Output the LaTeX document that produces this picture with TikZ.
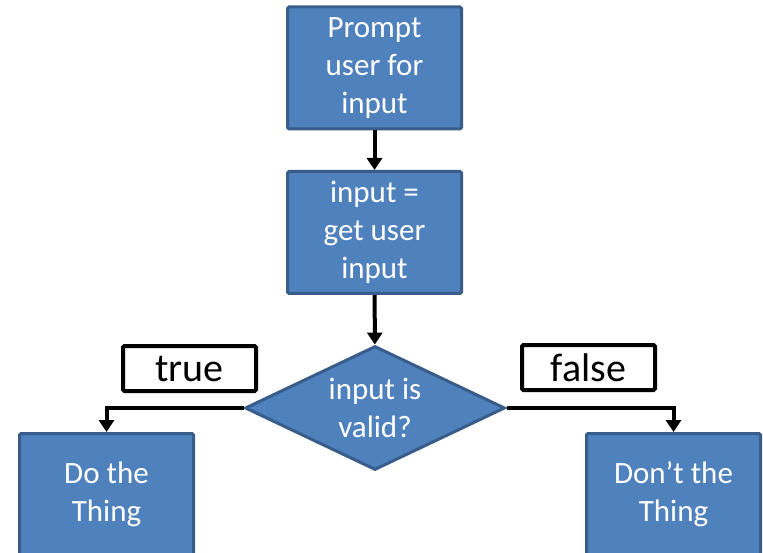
\documentclass[tikz,border=0pt]{standalone}
\usepackage{fontspec}
\setmainfont{Carlito}
\usetikzlibrary{shapes.geometric,arrows.meta}
\definecolor{boxfill}{HTML}{4F81BD}
\definecolor{boxline}{HTML}{385D8A}
\begin{document}
\begin{tikzpicture}[x=1pt,y=-1pt,
  stepbox/.style={draw=boxline, fill=boxfill, line width=3pt, rounded corners=1.5pt,
    minimum width=174pt, minimum height=122pt, inner sep=0pt, text=white, align=center,
    font=\fontsize{31}{38}\selectfont},
  decision/.style={diamond, aspect=2.05, draw=boxline, fill=boxfill, line width=3pt,
    minimum width=260pt, minimum height=124pt, inner sep=0pt, text=white, align=center,
    font=\fontsize{31}{38}\selectfont},
  tag/.style={draw=black, fill=white, line width=4pt, rounded corners=1.5pt,
    minimum width=133pt, minimum height=45pt, inner sep=0pt,
    font=\fontsize{40}{48}\selectfont},
  flow/.style={draw=black, line width=4pt, -{Triangle[width=15pt,length=12pt]}}
]
\useasboundingbox (0,0) rectangle (763,553);
\node[stepbox] (prompt) at (374.5,68) {Prompt\\user for\\input};
\node[stepbox] (get) at (374.5,232.5) {input =\\get user\\input};
\node[decision] (valid) at (375,408) {input is\\valid?};
\node[stepbox] (do) at (106.5,494.5) {Do the\\Thing};
\node[stepbox] (dont) at (673.5,494.5) {Don’t the\\Thing};
\node[tag] (true) at (189.5,368.5) {true};
\node[tag] (false) at (588.5,367.5) {false};
\draw[flow] (prompt) -- (get);
\draw[flow] (get) -- (valid);
\draw[flow] (valid.west) -| (do.north);
\draw[flow] (valid.east) -| (dont.north);
\end{tikzpicture}
\end{document}
